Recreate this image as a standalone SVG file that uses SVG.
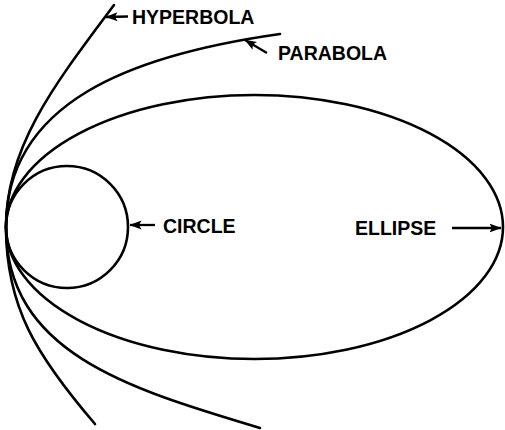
<svg xmlns="http://www.w3.org/2000/svg" width="505" height="430" viewBox="0 0 505 430">
<style>
.curve{fill:none;stroke:#000;stroke-width:2.6;stroke-linecap:round}
.arrow{fill:none;stroke:#000;stroke-width:2.3;marker-end:url(#ah)}
.label{font-family:"Liberation Sans",Arial,Helvetica,sans-serif;font-weight:bold;font-size:19.5px;fill:#000}
</style>
<defs>
<marker id="ah" markerWidth="12" markerHeight="10" refX="11.5" refY="5" orient="auto" markerUnits="userSpaceOnUse">
<path d="M0,0.5 L12,5 L0,9.5 L2.5,5 Z" fill="#000"/>
</marker>
</defs>
<rect width="505" height="430" fill="#fff"/>
<g id="hyperbola">
<path class="curve" d="M6,227 C6,147 54,85 114,5"/>
<path class="curve" d="M6,227 C6,307 36.5,355.6 95,424"/>
</g>
<g id="parabola">
<path class="curve" d="M6,227 C6,102 131.5,55 280,34"/>
<path class="curve" d="M6,227 C6,352 126,388 260,428"/>
</g>
<g id="ellipse">
<ellipse class="curve" cx="254.5" cy="227" rx="248.5" ry="132"/>
</g>
<g id="circle">
<circle class="curve" cx="67" cy="227" r="61"/>
</g>
<g id="connectors">
<line class="arrow" x1="128" y1="16.5" x2="106" y2="17"/>
<line class="arrow" x1="267" y1="53" x2="245" y2="40"/>
<line class="arrow" x1="155" y1="225" x2="130" y2="225"/>
<line class="arrow" x1="452" y1="228" x2="501" y2="228"/>
</g>
<g id="labels">
<text class="label" x="132" y="24">HYPERBOLA</text>
<text class="label" x="278" y="60">PARABOLA</text>
<text class="label" x="163" y="233">CIRCLE</text>
<text class="label" x="355" y="235">ELLIPSE</text>
</g>
</svg>
